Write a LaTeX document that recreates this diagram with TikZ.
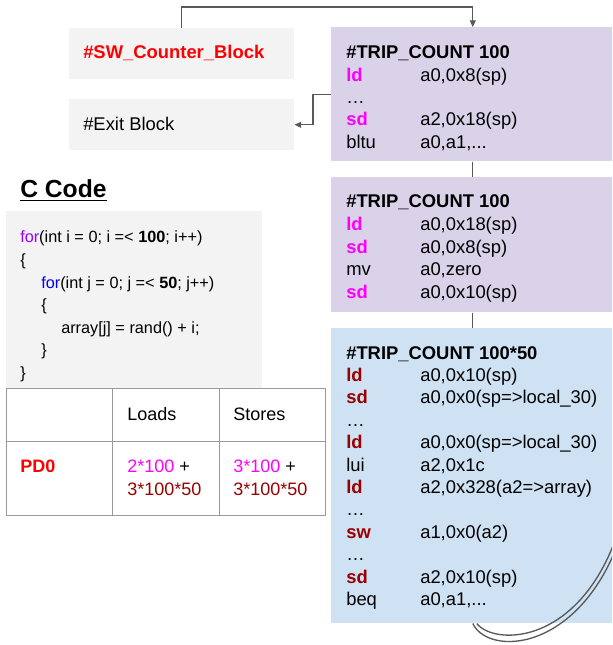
\documentclass[tikz,border=0pt]{standalone}
\usepackage{fontspec}
\setmainfont{Liberation Sans}
\usetikzlibrary{arrows.meta}

\definecolor{asmmag}{HTML}{FF00FF}
\definecolor{asmred}{HTML}{990000}
\definecolor{blkpurple}{HTML}{D9D2E9}
\definecolor{blkblue}{HTML}{CFE2F3}
\definecolor{blkgray}{HTML}{F3F3F3}
\definecolor{linegray}{HTML}{595959}
\definecolor{forpurple}{HTML}{9900FF}
\definecolor{tblgray}{HTML}{999999}

\newcommand{\mg}[1]{\textcolor{asmmag}{\textbf{#1}}}
\newcommand{\dr}[1]{\textcolor{asmred}{\textbf{#1}}}

\begin{document}
\begin{tikzpicture}
      [x=0.75pt,y=-0.75pt,
       every node/.style={inner sep=0pt,font=\fontsize{13.8}{16}\selectfont},
       blkbox/.style 2 args={anchor=north west,minimum width={#1*0.75pt},minimum height={#2*0.75pt}},
       txt/.style={anchor=base west},
       bold/.style={font=\fontsize{13.8}{16}\selectfont\bfseries},
       codetxt/.style={anchor=base west,font=\fontsize{12.2}{15}\selectfont},
       tbltxt/.style={anchor=base west,font=\fontsize{13.5}{16}\selectfont},
       conn/.style={draw=linegray,line width=1pt},
       arr/.style={conn,-{Triangle[length=5pt,width=4.5pt]}}]

      \useasboundingbox (0,0) rectangle (612,645);
      \clip (0,0) rectangle (612,645);

      % blocks
      \node[blkbox={225}{51},fill=blkgray]   (sw)    at (69,28)   {};
      \node[blkbox={225}{51},fill=blkgray]   (exit)  at (69,99)   {};
      \node[blkbox={283}{134},fill=blkpurple] (trip1) at (331,27)  {};
      \node[blkbox={283}{135},fill=blkpurple] (trip2) at (331,177) {};
      \node[blkbox={283}{295},fill=blkblue]   (loop)  at (331,328) {};
      \node[blkbox={256}{177},fill=blkgray]  (code)  at (6,211)   {};

      \node[txt,bold,text=red] (swtxt)   at (83,59)  {\#SW\_Counter\_Block};
      \node[txt]               (exittxt) at (83,131) {\#Exit Block};

      % outer loop header
      \node[txt,bold] (t1h) at (346,59) {\#TRIP\_COUNT 100};
      \foreach \op/\arg [count=\k] in {{\mg{ld}}/{a0,0x8(sp)}, {…}/{}, {\mg{sd}}/{a2,0x18(sp)}, {bltu}/{a0,a1,...}}
      {
            \node[txt] (t1op\k)  at (346,59+22.3*\k) {\op};
            \node[txt] (t1arg\k) at (420,59+22.3*\k) {\arg};
      }

      % inner loop setup
      \node[txt,bold] (t2h) at (346,208) {\#TRIP\_COUNT 100};
      \foreach \op/\arg [count=\k] in {{\mg{ld}}/{a0,0x18(sp)}, {\mg{sd}}/{a0,0x8(sp)}, {mv}/{a0,zero}, {\mg{sd}}/{a0,0x10(sp)}}
      {
            \node[txt] (t2op\k)  at (346,208+22.5*\k) {\op};
            \node[txt] (t2arg\k) at (420,208+22.5*\k) {\arg};
      }

      % inner loop body
      \node[txt,bold] (t3h) at (346,359) {\#TRIP\_COUNT 100*50};
      \foreach \op/\arg [count=\k] in {{\dr{ld}}/{a0,0x10(sp)}, {\dr{sd}}/{a0,0x0(sp=>local\_30)}, {…}/{},
            {\dr{ld}}/{a0,0x0(sp=>local\_30)}, {lui}/{a2,0x1c}, {\dr{ld}}/{a2,0x328(a2=>array)}, {…}/{},
            {\dr{sw}}/{a1,0x0(a2)}, {…}/{}, {\dr{sd}}/{a2,0x10(sp)}, {beq}/{a0,a1,...}}
      {
            \node[txt] (t3op\k)  at (346,359+22.4*\k) {\op};
            \node[txt] (t3arg\k) at (420,359+22.4*\k) {\arg};
      }

      % C source
      \node[txt,font=\fontsize{18.5}{22}\selectfont\bfseries] (ctitle) at (20,198) {\underline{C Code}};
      \foreach \ind/\src [count=\k from 0] in {20/{\textcolor{forpurple}{for}(int i = 0; i =< \textbf{100}; i++)}, 20/{\{},
            41/{\textcolor{blue}{for}(int j = 0; j =< \textbf{50}; j++)}, 41/{\{}, 61/{array[j] = rand() + i;}, 41/{\}}, 20/{\}}}
            \node[codetxt] (cl\k) at (\ind,243+22.5*\k) {\src};

      % table
      \node[blkbox={106}{53},draw=tblgray,fill=white] (c11) at (6,388)   {};
      \node[blkbox={107}{53},draw=tblgray,fill=white] (c12) at (112,388) {};
      \node[blkbox={106}{53},draw=tblgray,fill=white] (c13) at (219,388) {};
      \node[blkbox={106}{74},draw=tblgray,fill=white] (c21) at (6,441)   {};
      \node[blkbox={107}{74},draw=tblgray,fill=white] (c22) at (112,441) {};
      \node[blkbox={106}{74},draw=tblgray,fill=white] (c23) at (219,441) {};

      \node[tbltxt] (loads)  at (127,420) {Loads};
      \node[tbltxt] (stores) at (233,420) {Stores};
      \node[tbltxt,font=\fontsize{13.5}{16}\selectfont\bfseries,text=red] (pd0) at (20,472) {PD0};
      \node[tbltxt] (ld1) at (127,472) {\textcolor{asmmag}{2*100} +};
      \node[tbltxt] (ld2) at (127,495) {\textcolor{asmred}{3*100*50}};
      \node[tbltxt] (st1) at (233,472) {\textcolor{asmmag}{3*100} +};
      \node[tbltxt] (st2) at (233,495) {\textcolor{asmred}{3*100*50}};

      % connectors
      \draw[arr]  (sw.north) -- ++(0,-21) -| (trip1.north);
      \draw[arr]  (trip1.west) -- ++(-18,0) |- (exit.east);
      \draw[conn] (trip1.south) -- (trip2.north);
      \draw[conn] (trip2.south) -- (loop.north);

      \coordinate (back1) at (632,495);
      \coordinate (back2) at (628,495);
      \draw[conn] (loop.south) .. controls (490,660) and (600,652) .. (back1);
      \draw[conn] ([xshift=3pt]loop.south) .. controls (496,648) and (597,646) .. (back2);
\end{tikzpicture}
\end{document}
